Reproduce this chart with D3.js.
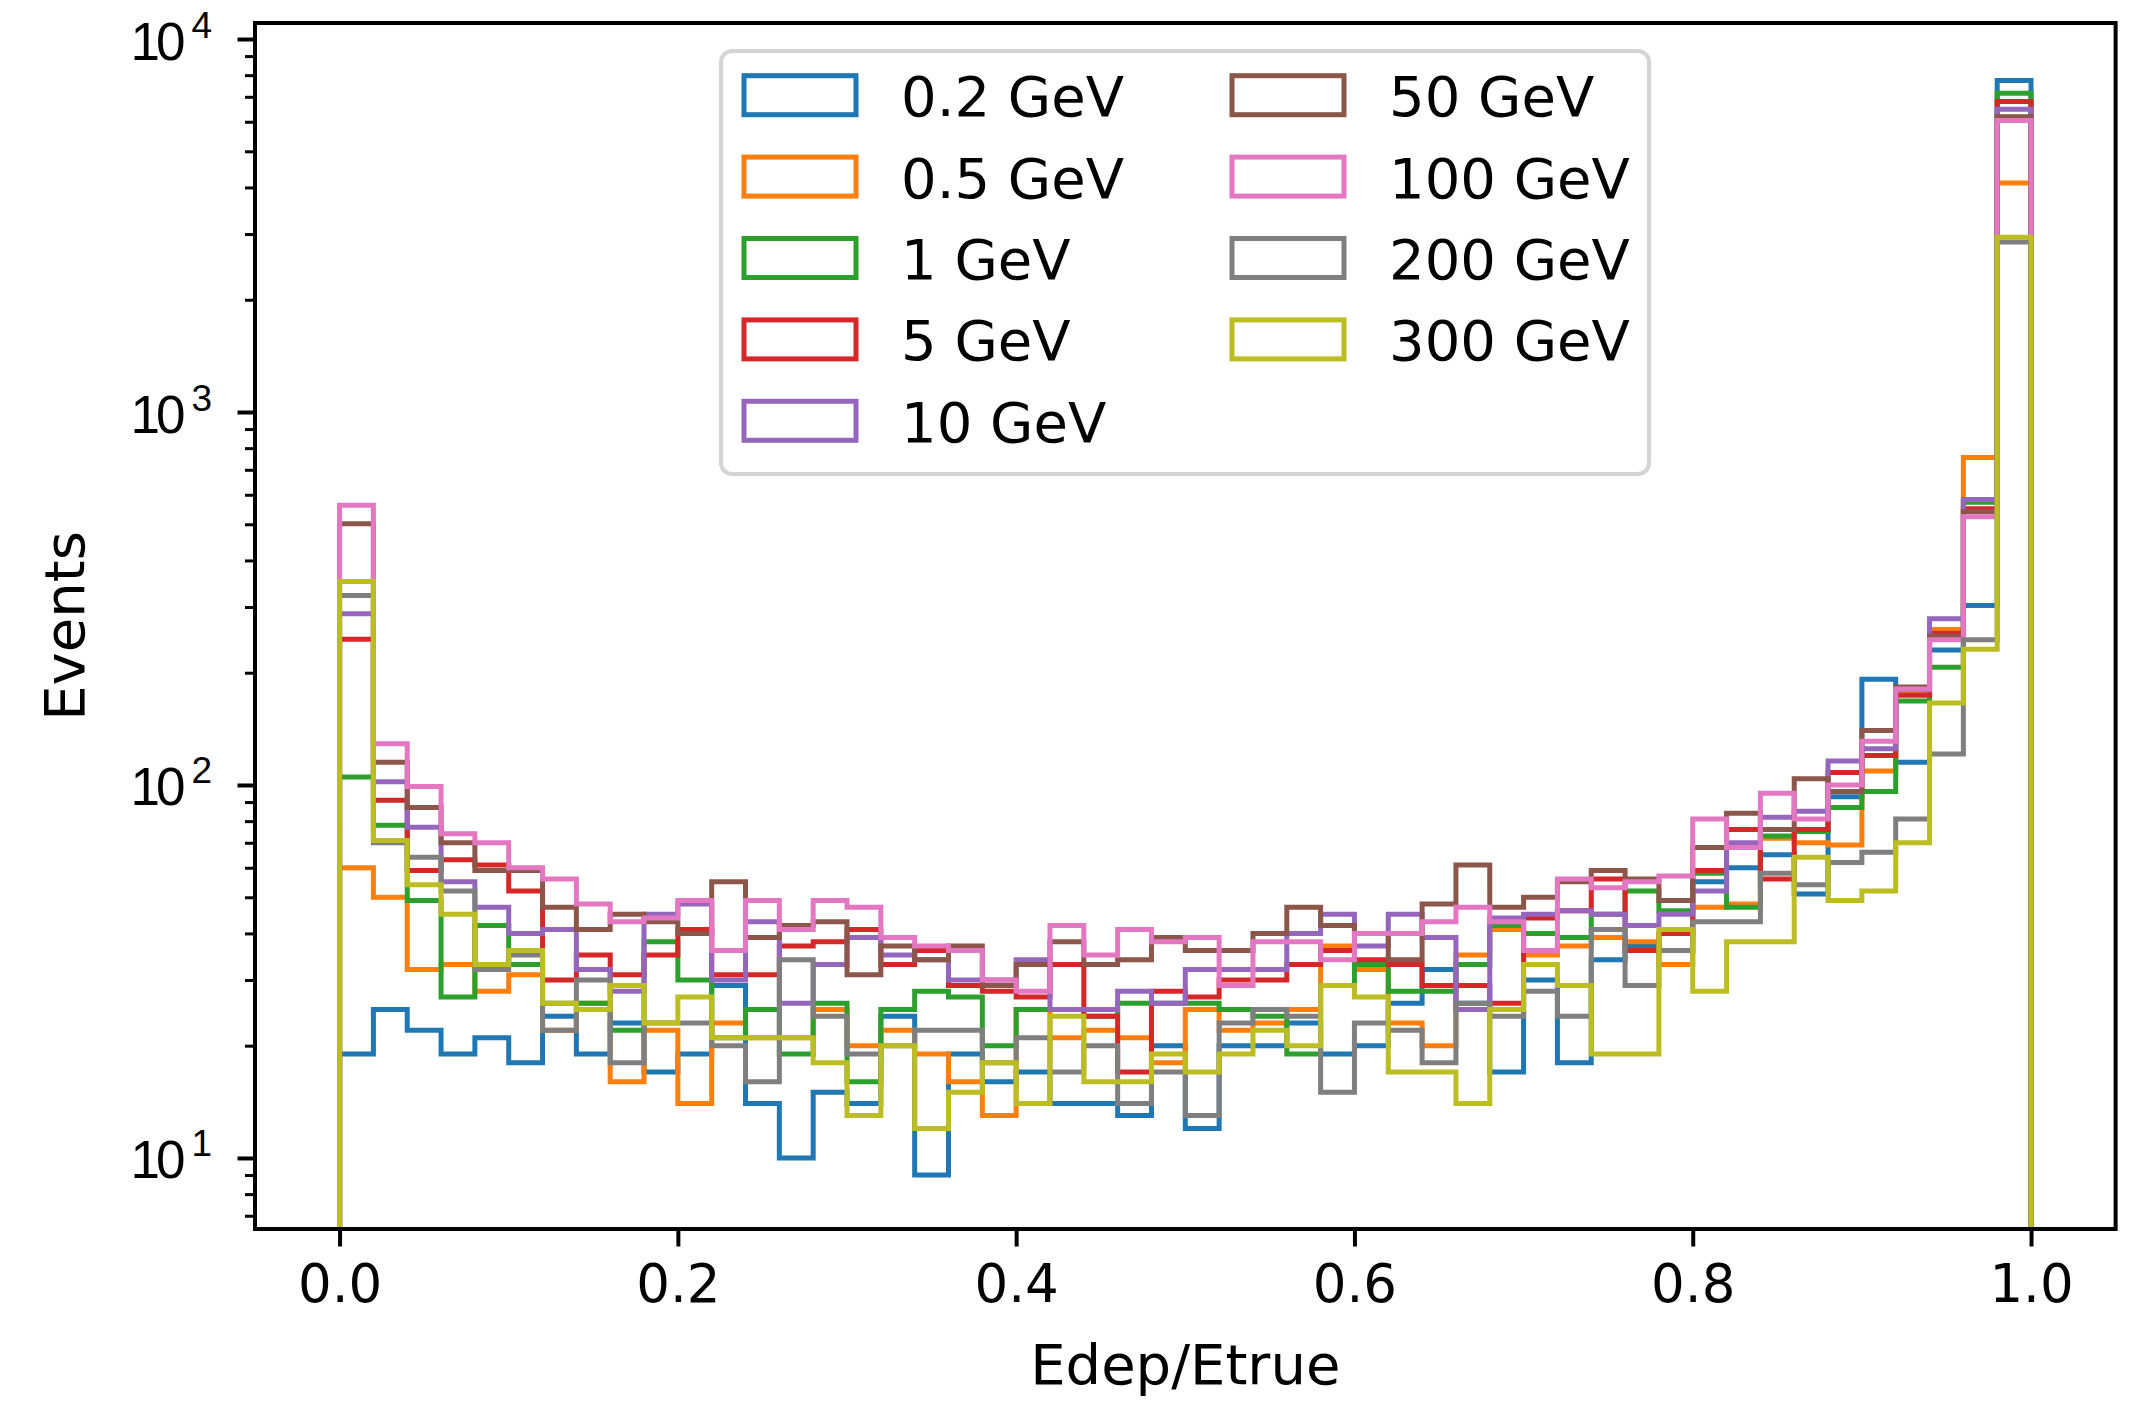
<!DOCTYPE html>
<html>
<head>
<meta charset="utf-8">
<script src="https://cdn.jsdelivr.net/npm/d3@7"></script>
<style>
  body { margin: 0; background: #fff; }
  svg { display: block; font-family: "DejaVu Sans", sans-serif; }
</style>
</head>
<body>
<div class="hist-plot"></div>
<script>
// Series labels and colours (matplotlib tab10)
const energyLabels = ["0.2 GeV", "0.5 GeV", "1 GeV", "5 GeV", "10 GeV", "50 GeV", "100 GeV", "200 GeV", "300 GeV"];
const colors = ["#1f77b4", "#ff7f0e", "#2ca02c", "#d62728", "#9467bd", "#8c564b", "#e377c2", "#7f7f7f", "#bcbd22"];

// Bin counts, 50 bins of Edep/Etrue from 0 to 1
const counts0p2 = [19, 25, 22, 19, 21, 18, 24, 19, 23, 17, 19, 29, 14, 10, 15, 14, 24, 9, 19, 16,
  17, 14, 14, 13, 20, 12, 20, 20, 23, 19, 20, 26, 32, 26, 17, 30, 18, 34, 37, 36,
  55, 60, 65, 51, 93, 192, 115, 230, 303, 7745];
const counts0p5 = [60, 50, 32, 33, 28, 31, 22, 26, 16, 22, 14, 23, 21, 21, 25, 20, 22, 19, 16, 13,
  25, 21, 22, 21, 18, 25, 22, 23, 25, 37, 32, 23, 20, 35, 41, 35, 37, 39, 38, 33,
  47, 48, 72, 70, 69, 109, 177, 261, 755, 4109];
const counts1 = [105, 78, 49, 27, 42, 33, 26, 26, 22, 38, 30, 21, 25, 19, 26, 16, 25, 28, 27, 20,
  25, 25, 24, 26, 26, 26, 25, 24, 19, 29, 33, 28, 28, 33, 42, 40, 39, 45, 52, 46,
  58, 47, 73, 75, 87, 96, 168, 207, 573, 7160];
const counts5 = [246, 91, 59, 63, 61, 52, 30, 35, 31, 35, 41, 31, 31, 37, 38, 41, 33, 36, 29, 28,
  27, 33, 24, 17, 28, 27, 30, 30, 33, 36, 34, 33, 29, 29, 26, 44, 46, 56, 36, 40,
  59, 76, 56, 76, 108, 120, 174, 255, 550, 6800];
const counts10 = [288, 102, 77, 55, 47, 40, 41, 32, 28, 45, 48, 30, 43, 26, 33, 39, 35, 34, 30, 30,
  34, 25, 25, 28, 26, 32, 32, 32, 40, 45, 37, 45, 39, 25, 44, 45, 46, 45, 42, 45,
  52, 70, 82, 85, 116, 125, 180, 279, 583, 6486];
const counts50 = [502, 115, 87, 70, 59, 59, 47, 41, 45, 43, 40, 55, 39, 42, 43, 31, 37, 34, 37, 29,
  33, 38, 33, 34, 39, 36, 36, 40, 47, 42, 40, 34, 48, 61, 47, 50, 55, 59, 56, 49,
  68, 84, 76, 104, 96, 140, 183, 251, 540, 6185];
const counts100 = [562, 129, 99, 74, 70, 60, 56, 48, 43, 44, 49, 36, 49, 41, 49, 47, 39, 37, 36, 30,
  28, 42, 35, 41, 38, 39, 29, 38, 38, 34, 40, 40, 43, 47, 43, 36, 56, 53, 55, 57,
  81, 68, 95, 81, 100, 131, 181, 245, 524, 6043];
const counts200 = [322, 70, 64, 52, 32, 35, 22, 30, 18, 23, 23, 20, 16, 34, 24, 19, 20, 22, 22, 18,
  21, 17, 20, 14, 17, 13, 23, 25, 24, 15, 23, 22, 18, 26, 24, 28, 24, 41, 29, 36,
  43, 43, 58, 54, 62, 66, 81, 121, 245, 2858];
const counts300 = [351, 71, 54, 45, 33, 36, 26, 25, 29, 23, 27, 21, 21, 21, 18, 13, 20, 12, 15, 18,
  14, 24, 16, 16, 19, 17, 19, 22, 20, 29, 27, 17, 17, 14, 25, 33, 29, 19, 19, 41,
  28, 38, 38, 64, 49, 52, 70, 166, 231, 2940];

const allCounts = [counts0p2, counts0p5, counts1, counts5, counts10, counts50, counts100, counts200, counts300];

// Axis ticks
const xTicks = [0.0, 0.2, 0.4, 0.6, 0.8, 1.0];
const yMajorTicks = [10, 100, 1000, 10000];
const yExponents = ["1", "2", "3", "4"];
const yMinorTicks = [7, 8, 9, 20, 30, 40, 50, 60, 70, 80, 90, 200, 300, 400, 500, 600, 700, 800, 900,
  2000, 3000, 4000, 5000, 6000, 7000, 8000, 9000];

const binEdges = d3.range(51).map(i => i / 50);

// Layout
const W = 2142, H = 1404;
const M = { LEFT: 255, RIGHT: 26.4, TOP: 23, BOTTOM: 175 };
const LW = 5; // histogram line width

const svg = d3.select(".hist-plot").append("svg").attr("width", W).attr("height", H);

const xScale = d3.scaleLinear()
  .domain([-0.05, 1.05])
  .range([M.LEFT, W - M.RIGHT]);

const yScale = d3.scaleLog()
  .domain([6.45, 11040])
  .range([H - M.BOTTOM, M.TOP]);

svg.append("clipPath").attr("id", "plot-clip")
  .append("rect")
  .attr("x", M.LEFT).attr("y", M.TOP)
  .attr("width", W - M.LEFT - M.RIGHT).attr("height", H - M.TOP - M.BOTTOM);

// Step histograms
const line = d3.line()
  .x(d => xScale(d[0]))
  .y(d => yScale(d[1]));

const plot = svg.append("g").attr("clip-path", "url(#plot-clip)");

allCounts.forEach((counts, s) => {
  const pts = [[binEdges[0], 1]];
  counts.forEach((c, i) => {
    pts.push([binEdges[i], c]);
    pts.push([binEdges[i + 1], c]);
  });
  pts.push([binEdges[50], 1]);
  plot.append("path")
    .attr("d", line(pts))
    .attr("fill", "none")
    .attr("stroke", colors[s])
    .attr("stroke-width", LW)
    .attr("stroke-linejoin", "miter");
});

// X axis
const xAxis = svg.append("g")
  .attr("transform", `translate(0, ${H - M.BOTTOM})`)
  .call(d3.axisBottom(xScale).tickValues(xTicks).tickSize(17.5).tickPadding(17.5).tickSizeOuter(0)
    .tickFormat(d3.format(".1f")));
xAxis.select(".domain").remove();
xAxis.selectAll(".tick line").attr("stroke", "#000").attr("stroke-width", 4);
xAxis.selectAll(".tick text")
  .attr("font-size", 53).attr("font-family", "DejaVu Sans").attr("fill", "#000")
  .attr("dy", "0.72em");

// Y axis, minor then major ticks
const yMinor = svg.append("g")
  .attr("transform", `translate(${M.LEFT}, 0)`)
  .call(d3.axisLeft(yScale).tickValues(yMinorTicks).tickSize(10).tickSizeOuter(0).tickFormat(""));
yMinor.select(".domain").remove();
yMinor.selectAll(".tick line").attr("stroke", "#000").attr("stroke-width", 3);

const yAxis = svg.append("g")
  .attr("transform", `translate(${M.LEFT}, 0)`)
  .call(d3.axisLeft(yScale).tickValues(yMajorTicks).tickSize(17.5).tickSizeOuter(0).tickFormat(""));
yAxis.select(".domain").remove();
yAxis.selectAll(".tick line").attr("stroke", "#000").attr("stroke-width", 4);
yAxis.selectAll(".tick text").remove();

const yLabels = yAxis.selectAll(".tick").append("text")
  .attr("x", -43)
  .attr("y", 20)
  .attr("text-anchor", "end")
  .attr("font-size", 53)
  .attr("fill", "#000");
yLabels.append("tspan").attr("letter-spacing", -4).text("10");
yLabels.append("tspan")
  .attr("dx", 10)
  .attr("dy", -22)
  .attr("font-size", 37)
  .text((d, i) => yExponents[i]);

// Frame
svg.append("rect")
  .attr("x", M.LEFT).attr("y", M.TOP)
  .attr("width", W - M.LEFT - M.RIGHT).attr("height", H - M.TOP - M.BOTTOM)
  .attr("fill", "none").attr("stroke", "#000").attr("stroke-width", 4);

// Axis labels
svg.append("text")
  .attr("x", (M.LEFT + W - M.RIGHT) / 2)
  .attr("y", 1384)
  .attr("text-anchor", "middle")
  .attr("font-size", 56)
  .attr("fill", "#000")
  .text("Edep/Etrue");

svg.append("text")
  .attr("transform", `translate(84, ${(M.TOP + H - M.BOTTOM) / 2}) rotate(-90)`)
  .attr("text-anchor", "middle")
  .attr("font-size", 56)
  .attr("fill", "#000")
  .text("Events");

// Legend
const legend = svg.append("g");
legend.append("rect")
  .attr("x", 721).attr("y", 51)
  .attr("width", 928).attr("height", 423)
  .attr("rx", 11).attr("ry", 11)
  .attr("fill", "#fff").attr("fill-opacity", 0.8)
  .attr("stroke", "#d4d4d4").attr("stroke-width", 4);

const colX = [744, 1232];
const rowY0 = 95.2, rowStep = 81.4;
energyLabels.forEach((label, i) => {
  const col = i < 5 ? 0 : 1;
  const row = i < 5 ? i : i - 5;
  const cy = rowY0 + row * rowStep;
  legend.append("rect")
    .attr("x", colX[col]).attr("y", cy - 19.5)
    .attr("width", 112).attr("height", 39)
    .attr("fill", "none")
    .attr("stroke", colors[i])
    .attr("stroke-width", LW);
  legend.append("text")
    .attr("x", colX[col] + 157)
    .attr("y", cy + 21)
    .attr("font-size", 56)
    .attr("fill", "#000")
    .text(label);
});
</script>
</body>
</html>
